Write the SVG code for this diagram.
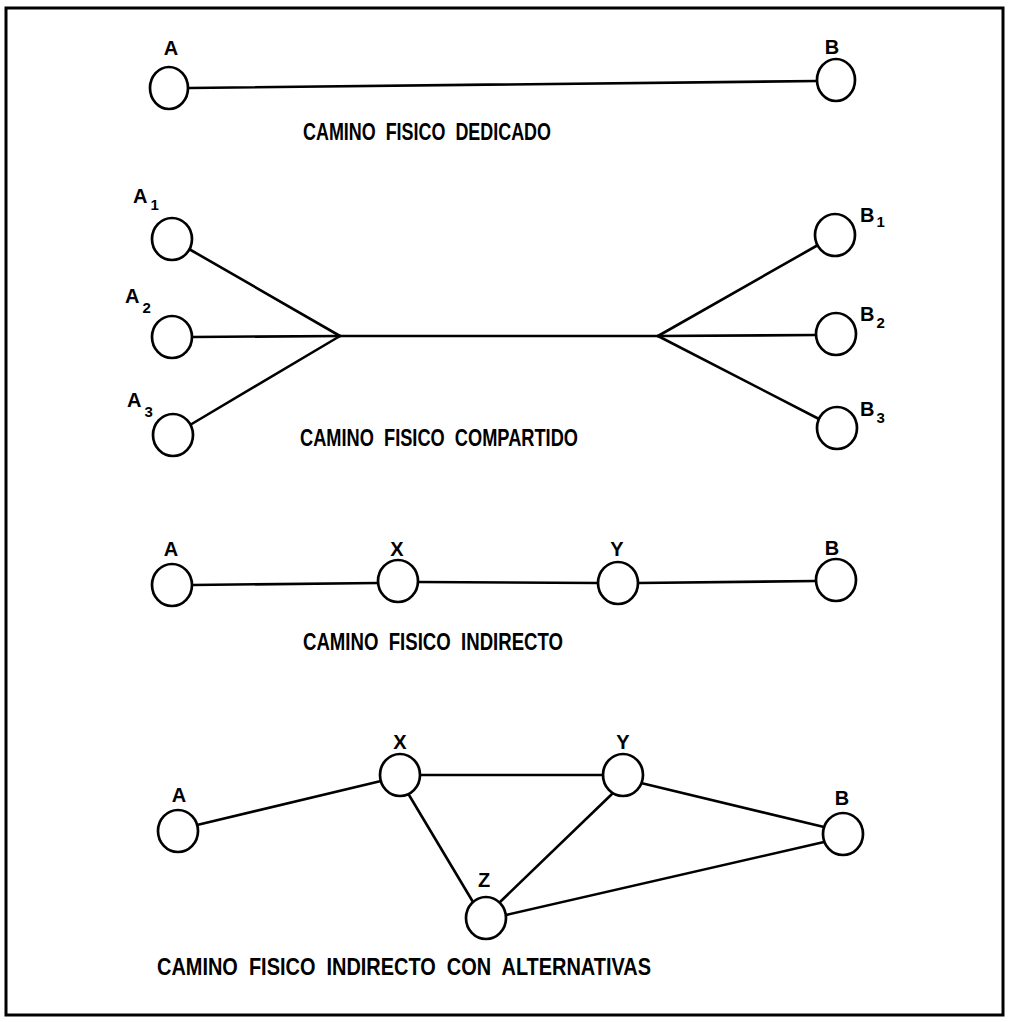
<svg xmlns="http://www.w3.org/2000/svg" width="1010" height="1022" viewBox="0 0 1010 1022">
<style>
.n{fill:#fff;stroke:#000;stroke-width:2.7}
.e{stroke:#000;stroke-width:2.6;fill:none;stroke-linecap:round}
.l{font-family:"Liberation Sans",Arial,sans-serif;font-weight:bold;font-size:20px;fill:#000}
.t{font-family:"Liberation Sans",Arial,sans-serif;font-weight:bold;font-size:23px;fill:#000;white-space:pre}
.s{font-size:15px}
</style>
<rect x="0" y="0" width="1010" height="1022" fill="#fff"/>
<rect x="6" y="8" width="997" height="1007" fill="none" stroke="#000" stroke-width="3"/>
<g id="connectors">
<line class="e" x1="189" y1="88" x2="817" y2="81"/>
<line class="e" x1="189" y1="249" x2="340" y2="336"/>
<line class="e" x1="192" y1="337" x2="340" y2="336"/>
<line class="e" x1="190" y1="425" x2="340" y2="336"/>
<line class="e" x1="340" y1="336" x2="658" y2="336"/>
<line class="e" x1="658" y1="336" x2="818" y2="245"/>
<line class="e" x1="658" y1="336" x2="816" y2="335"/>
<line class="e" x1="658" y1="336" x2="819" y2="419"/>
<line class="e" x1="192" y1="585" x2="378" y2="583"/>
<line class="e" x1="418" y1="582" x2="598" y2="583"/>
<line class="e" x1="638" y1="583" x2="816" y2="581"/>
<line class="e" x1="197" y1="825" x2="381" y2="781"/>
<line class="e" x1="420" y1="775" x2="603" y2="775"/>
<line class="e" x1="409" y1="795" x2="473" y2="902"/>
<line class="e" x1="612" y1="794" x2="500" y2="902"/>
<line class="e" x1="641" y1="783" x2="824" y2="827"/>
<line class="e" x1="506" y1="915" x2="824" y2="842"/>
</g>
<g id="n-dedicado-A"><ellipse class="n" cx="169" cy="88" rx="19" ry="21"/><text class="l" x="171" y="55" text-anchor="middle">A</text></g>
<g id="n-dedicado-B"><ellipse class="n" cx="836" cy="80" rx="19" ry="21"/><text class="l" x="832" y="54" text-anchor="middle">B</text></g>
<text id="lbl-dedicado" class="t" x="303" y="140" textLength="248" lengthAdjust="spacingAndGlyphs">CAMINO  FISICO  DEDICADO</text>
<g id="n-A1"><ellipse class="n" cx="172" cy="239" rx="20" ry="21"/><text class="l" x="133" y="203">A<tspan class="s" dx="3" dy="7">1</tspan></text></g>
<g id="n-A2"><ellipse class="n" cx="172" cy="337" rx="20" ry="21"/><text class="l" x="125" y="303">A<tspan class="s" dx="3" dy="10">2</tspan></text></g>
<g id="n-A3"><ellipse class="n" cx="173" cy="435" rx="20" ry="21"/><text class="l" x="127" y="407">A<tspan class="s" dx="3" dy="10">3</tspan></text></g>
<g id="n-B1"><ellipse class="n" cx="835" cy="235" rx="20" ry="21"/><text class="l" x="860" y="222">B<tspan class="s" dx="2" dy="5">1</tspan></text></g>
<g id="n-B2"><ellipse class="n" cx="836" cy="334" rx="20" ry="21"/><text class="l" x="860" y="321">B<tspan class="s" dx="2" dy="7">2</tspan></text></g>
<g id="n-B3"><ellipse class="n" cx="837" cy="428" rx="20" ry="21"/><text class="l" x="860" y="416">B<tspan class="s" dx="2" dy="7">3</tspan></text></g>
<text id="lbl-compartido" class="t" x="300" y="446" textLength="278" lengthAdjust="spacingAndGlyphs">CAMINO  FISICO  COMPARTIDO</text>
<g id="n-ind-A"><ellipse class="n" cx="172" cy="585" rx="20" ry="21"/><text class="l" x="171" y="556" text-anchor="middle">A</text></g>
<g id="n-ind-X"><ellipse class="n" cx="398" cy="581" rx="20" ry="21"/><text class="l" x="397" y="556" text-anchor="middle">X</text></g>
<g id="n-ind-Y"><ellipse class="n" cx="618" cy="583" rx="20" ry="21"/><text class="l" x="617" y="556" text-anchor="middle">Y</text></g>
<g id="n-ind-B"><ellipse class="n" cx="836" cy="580" rx="20" ry="21"/><text class="l" x="832" y="555" text-anchor="middle">B</text></g>
<text id="lbl-indirecto" class="t" x="303" y="650" textLength="260" lengthAdjust="spacingAndGlyphs">CAMINO  FISICO  INDIRECTO</text>
<g id="n-alt-A"><ellipse class="n" cx="178" cy="831" rx="20" ry="21"/><text class="l" x="179" y="802" text-anchor="middle">A</text></g>
<g id="n-alt-X"><ellipse class="n" cx="400" cy="775" rx="20" ry="21"/><text class="l" x="400" y="749" text-anchor="middle">X</text></g>
<g id="n-alt-Y"><ellipse class="n" cx="623" cy="775" rx="20" ry="21"/><text class="l" x="623" y="749" text-anchor="middle">Y</text></g>
<g id="n-alt-B"><ellipse class="n" cx="843" cy="834" rx="20" ry="21"/><text class="l" x="842" y="805" text-anchor="middle">B</text></g>
<g id="n-alt-Z"><ellipse class="n" cx="486" cy="918" rx="20" ry="21"/><text class="l" x="484" y="887" text-anchor="middle">Z</text></g>
<text id="lbl-alternativas" class="t" x="157" y="975" textLength="494" lengthAdjust="spacingAndGlyphs">CAMINO  FISICO  INDIRECTO  CON  ALTERNATIVAS</text>
</svg>
